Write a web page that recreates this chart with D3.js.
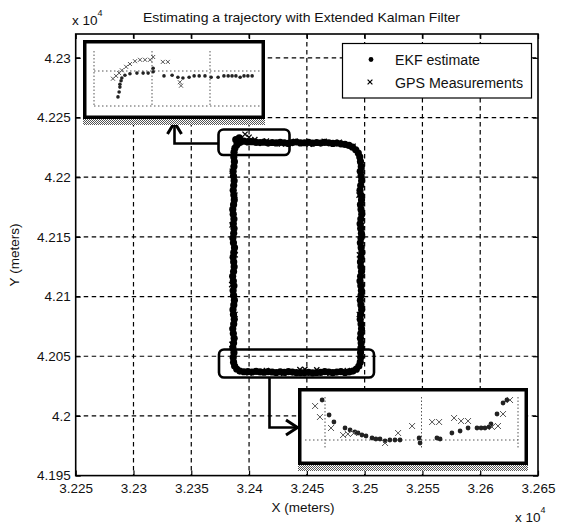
<!DOCTYPE html>
<html>
<head>
<meta charset="utf-8">
<script src="https://cdn.jsdelivr.net/npm/d3@7"></script>
<style>
body { margin: 0; background: #fff; }
#chart { width: 561px; height: 524px; }
text { font-family: "Liberation Sans", Arial, sans-serif; fill: #111; }
</style>
</head>
<body>
<div id="chart"></div>
<script>
// tick values (meters, labelled in units of 10^4)
const xTicks = [32250, 32300, 32350, 32400, 32450, 32500, 32550, 32600, 32650];
const yTicks = [41950, 42000, 42050, 42100, 42150, 42200, 42250, 42300];

// EKF estimate, read off the picture side by side [x, y] in meters
const ekfTop = [
    [32388.5, 42231.5], [32391.5, 42233.0], [32387.0, 42221.0], [32387.8, 42224.5], [32389.5, 42227.3], [32392.0, 42229.0],
    [32395.5, 42230.2], [32399.0, 42229.6], [32402.5, 42229.8], [32406.0, 42229.2], [32409.5, 42229.0], [32413.0, 42229.4],
    [32416.5, 42228.6], [32420.0, 42229.1], [32423.5, 42228.7], [32427.0, 42229.3], [32430.5, 42228.9], [32434.0, 42228.3],
    [32437.5, 42229.0], [32441.0, 42229.5], [32444.5, 42228.7], [32448.0, 42228.9], [32451.5, 42229.3], [32455.0, 42228.5],
    [32458.5, 42229.1], [32462.0, 42228.6], [32465.5, 42229.2], [32469.0, 42228.8], [32472.5, 42228.3], [32476.0, 42228.6],
    [32479.5, 42228.0], [32483.0, 42227.5], [32486.5, 42226.6],
    [32489.5, 42225.2], [32492.3, 42223.0], [32494.5, 42220.2], [32495.8, 42217.0]
];
const ekfRight = [
    [32496.4, 42213], [32497.1, 42209], [32496.2, 42205], [32496.9, 42201], [32497.4, 42197], [32496.6, 42193],
    [32496.0, 42189], [32496.8, 42185], [32497.3, 42181], [32496.4, 42177], [32496.9, 42173], [32497.5, 42169],
    [32496.7, 42165], [32496.1, 42161], [32496.6, 42157], [32497.2, 42153], [32496.8, 42149], [32496.3, 42145],
    [32497.0, 42141], [32497.6, 42137], [32496.9, 42133], [32496.4, 42129], [32496.8, 42125], [32497.3, 42121],
    [32496.5, 42117], [32496.0, 42113], [32496.7, 42109], [32497.2, 42105], [32496.9, 42101], [32496.3, 42097],
    [32496.8, 42093], [32497.4, 42089], [32496.6, 42085], [32496.2, 42081], [32496.9, 42077], [32497.3, 42073],
    [32496.7, 42069], [32496.4, 42065], [32497.0, 42061], [32496.8, 42057], [32496.5, 42053], [32496.6, 42049],
    [32496.2, 42045.0], [32495.0, 42041.8], [32492.8, 42039.2], [32489.8, 42037.6]
];
const ekfBottom = [
    [32486.5, 42036.9], [32483.0, 42036.4], [32479.5, 42037.1], [32476.0, 42036.7], [32472.5, 42036.2], [32469.0, 42036.8],
    [32465.5, 42037.2], [32462.0, 42036.5], [32458.5, 42036.4], [32455.0, 42036.1], [32451.5, 42036.5], [32448.0, 42036.3],
    [32444.5, 42036.2], [32441.0, 42036.2], [32437.5, 42036.7], [32434.0, 42037.1], [32430.5, 42036.5], [32427.0, 42036.9],
    [32423.5, 42036.4], [32420.0, 42036.8], [32416.5, 42037.2], [32413.0, 42036.6], [32409.5, 42036.9], [32406.0, 42037.3],
    [32402.5, 42036.8], [32399.0, 42037.2], [32395.5, 42037.0],
    [32392.0, 42037.6], [32389.3, 42039.3], [32387.5, 42041.8], [32386.6, 42045.0]
];
const ekfLeft = [
    [32386.3, 42049], [32386.9, 42053], [32386.0, 42057], [32386.6, 42061], [32387.1, 42065], [32386.4, 42069],
    [32385.9, 42073], [32386.7, 42077], [32387.2, 42081], [32386.5, 42085], [32386.1, 42089], [32386.8, 42093],
    [32387.3, 42097], [32386.6, 42101], [32386.2, 42105], [32386.9, 42109], [32386.4, 42113], [32385.8, 42117],
    [32386.6, 42121], [32387.1, 42125], [32386.7, 42129], [32386.2, 42133], [32386.8, 42137], [32387.4, 42141],
    [32386.5, 42145], [32386.0, 42149], [32386.7, 42153], [32387.0, 42157], [32386.4, 42161], [32386.9, 42165],
    [32386.3, 42169], [32385.9, 42173], [32386.6, 42177], [32387.2, 42181], [32386.8, 42185], [32386.3, 42189],
    [32386.7, 42193], [32387.1, 42197], [32386.5, 42201], [32386.2, 42205], [32386.9, 42209], [32387.3, 42213],
    [32386.8, 42217]
];

// GPS measurements [x, y] in meters
const gpsPoints = [
    [32396.5, 42236.0], [32400.0, 42233.5], [32392.5, 42232.0], [32405.0, 42231.5], [32415.0, 42230.2], [32428.0, 42227.8],
    [32440.0, 42230.0], [32452.0, 42227.6], [32465.0, 42230.1], [32478.0, 42229.3], [32490.0, 42226.0],
    [32497.8, 42205], [32495.2, 42185], [32498.0, 42160], [32495.5, 42135], [32497.6, 42110], [32495.4, 42085], [32497.9, 42060],
    [32485.0, 42038.0], [32470.0, 42035.8], [32458.6, 42038.6], [32448.3, 42039.0], [32444.0, 42038.8], [32430.0, 42035.6],
    [32415.0, 42038.1], [32400.0, 42036.0],
    [32385.2, 42060], [32387.8, 42085], [32385.0, 42110], [32388.0, 42135], [32385.3, 42160], [32387.7, 42185],
    [32385.5, 42205], [32387.0, 42222]
];

// zoomed view of the start (top-left corner)
const inset1XTicks = [32390, 32405, 32420];
const inset1YTicks = [42225, 42230];
const inset1Ekf = [
    [32396.2, 42226.3], [32396.5, 42227.0], [32396.7, 42227.7], [32396.7, 42228.1], [32397.0, 42228.6], [32397.2, 42229.0],
    [32398.0, 42229.4], [32399.3, 42229.6], [32401.1, 42229.7], [32402.7, 42229.7], [32404.0, 42229.7], [32405.3, 42230.4],
    [32405.3, 42229.9], [32408.1, 42229.3], [32410.2, 42229.4], [32411.7, 42229.1], [32413.0, 42229.0], [32414.6, 42229.1],
    [32415.9, 42229.3], [32417.2, 42229.3], [32418.7, 42229.3], [32420.3, 42229.1], [32422.1, 42229.1], [32423.6, 42229.3],
    [32424.7, 42229.3], [32425.7, 42229.3], [32426.7, 42229.3], [32427.8, 42229.1], [32428.8, 42229.3], [32429.8, 42229.3],
    [32430.9, 42229.3]
];
const inset1Gps = [
    [32394.9, 42228.9], [32395.7, 42229.3], [32396.5, 42229.7], [32397.2, 42230.1], [32398.3, 42230.6], [32399.3, 42231.0],
    [32400.6, 42231.4], [32401.9, 42231.6], [32403.2, 42231.6], [32404.5, 42231.6], [32405.3, 42232.0], [32407.8, 42231.3],
    [32409.1, 42231.3], [32412.2, 42228.4], [32412.5, 42227.9]
];

// zoomed view of the bottom edge
const inset2XTicks = [32400, 32440, 32480];
const inset2YTicks = [42037];
const inset2Ekf = [
    [32398.8, 42041.0], [32401.7, 42039.5], [32403.7, 42038.8], [32408.3, 42038.2], [32410.4, 42038.0], [32412.4, 42037.8],
    [32413.7, 42037.7], [32415.3, 42037.5], [32417.0, 42037.4], [32419.5, 42037.2], [32421.1, 42037.1], [32422.8, 42037.1],
    [32424.9, 42036.9], [32426.9, 42037.0], [32429.0, 42037.0], [32431.1, 42037.0], [32439.0, 42037.2], [32439.4, 42036.7],
    [32446.4, 42037.2], [32447.7, 42037.1], [32452.6, 42037.7], [32456.0, 42037.9], [32459.3, 42038.2], [32463.0, 42038.2],
    [32464.7, 42038.2], [32466.3, 42038.2], [32468.0, 42038.3], [32468.8, 42038.6], [32471.3, 42039.6], [32473.8, 42040.7],
    [32475.4, 42041.0]
];
const inset2Gps = [
    [32395.9, 42040.4], [32397.9, 42039.3], [32402.5, 42038.2], [32407.5, 42037.5], [32409.5, 42037.6], [32412.0, 42037.7],
    [32424.9, 42036.7], [32430.3, 42037.7], [32436.1, 42038.4], [32444.4, 42038.8], [32447.3, 42038.8], [32453.5, 42039.2],
    [32456.4, 42038.9], [32459.3, 42038.9], [32469.2, 42038.3], [32471.7, 42038.4], [32473.8, 42039.6], [32476.7, 42041.0]
];

const width = 561;
const height = 524;
const margin = { top: 34, left: 75.7, right: 23, bottom: 48.4 };

const svg = d3.select("#chart")
    .append("svg")
    .attr("width", width)
    .attr("height", height);

// stipple used for the drop shadows under the pasted zoom boxes
const pat = svg.append("defs").append("pattern")
    .attr("id", "stipple").attr("width", 2).attr("height", 2)
    .attr("patternUnits", "userSpaceOnUse");
pat.append("rect").attr("width", 2).attr("height", 2).attr("fill", "#fff");
pat.append("rect").attr("width", 1).attr("height", 1).attr("fill", "#555");
pat.append("rect").attr("x", 1).attr("y", 1).attr("width", 1).attr("height", 1).attr("fill", "#555");

const xScale = d3.scaleLinear()
    .domain([32250, 32650])
    .range([margin.left, width - margin.right]);

const yScale = d3.scaleLinear()
    .domain([41950, 42320])
    .range([height - margin.bottom, margin.top]);

const fmt = d => String(+(d / 1e4).toFixed(3));

// dashed grid
svg.append("g").selectAll("line")
    .data(xTicks.slice(1, -1))
    .enter().append("line")
    .attr("x1", d => xScale(d)).attr("x2", d => xScale(d))
    .attr("y1", margin.top).attr("y2", height - margin.bottom)
    .attr("stroke", "#000").attr("stroke-width", 1.2)
    .attr("stroke-dasharray", "4.5,3.5");

svg.append("g").selectAll("line")
    .data(yTicks.slice(1))
    .enter().append("line")
    .attr("x1", margin.left).attr("x2", width - margin.right)
    .attr("y1", d => yScale(d)).attr("y2", d => yScale(d))
    .attr("stroke", "#000").attr("stroke-width", 1.2)
    .attr("stroke-dasharray", "4.5,3.5");

// axes with inside ticks
let xAxis = svg.append("g")
    .attr("transform", `translate(0,${height - margin.bottom})`)
    .call(d3.axisBottom(xScale).tickValues(xTicks).tickFormat(fmt)
        .tickSizeInner(-5).tickSizeOuter(0).tickPadding(8));

let yAxis = svg.append("g")
    .attr("transform", `translate(${margin.left},0)`)
    .call(d3.axisLeft(yScale).tickValues(yTicks).tickFormat(fmt)
        .tickSizeInner(-5).tickSizeOuter(0).tickPadding(5));

svg.append("g")
    .attr("transform", `translate(0,${margin.top})`)
    .call(d3.axisTop(xScale).tickValues(xTicks).tickFormat("").tickSizeInner(-5).tickSizeOuter(0));

svg.append("g")
    .attr("transform", `translate(${width - margin.right},0)`)
    .call(d3.axisRight(yScale).tickValues(yTicks).tickFormat("").tickSizeInner(-5).tickSizeOuter(0));

svg.selectAll(".domain").remove();
svg.selectAll(".tick line").attr("stroke", "#000").attr("stroke-width", 1.2);
svg.selectAll(".tick text").attr("font-size", 13.5).attr("fill", "#111")
    .attr("font-family", "'Liberation Sans', Arial, sans-serif");

svg.append("rect")
    .attr("x", margin.left).attr("y", margin.top)
    .attr("width", width - margin.left - margin.right)
    .attr("height", height - margin.top - margin.bottom)
    .attr("fill", "none").attr("stroke", "#000").attr("stroke-width", 1.6);

// trajectory
const crossPath = s => `M${-s},${-s}L${s},${s}M${-s},${s}L${s},${-s}`;
const ekfAll = ekfTop.concat(ekfRight, ekfBottom, ekfLeft);

svg.append("g").selectAll("circle")
    .data(ekfAll)
    .enter().append("circle")
    .attr("cx", d => xScale(d[0]))
    .attr("cy", d => yScale(d[1]))
    .attr("r", 3.6)
    .attr("fill", "#000");

svg.append("g").selectAll("path")
    .data(gpsPoints)
    .enter().append("path")
    .attr("transform", d => `translate(${xScale(d[0])},${yScale(d[1])})`)
    .attr("d", crossPath(2.6))
    .attr("stroke", "#000").attr("stroke-width", 1.3);

// selection boxes and arrows
svg.append("rect").attr("x", 218.5).attr("y", 129.5).attr("width", 71).attr("height", 25.5).attr("rx", 5)
    .attr("fill", "none").attr("stroke", "#000").attr("stroke-width", 2.6);
svg.append("rect").attr("x", 219).attr("y", 349.5).attr("width", 155).attr("height", 28).attr("rx", 5)
    .attr("fill", "none").attr("stroke", "#000").attr("stroke-width", 2.6);

svg.append("path").attr("d", "M218,143.5H174.5V124")
    .attr("fill", "none").attr("stroke", "#000").attr("stroke-width", 2.6);
svg.append("path").attr("d", "M167.5,134L174.5,122.5L181.5,134")
    .attr("fill", "none").attr("stroke", "#000").attr("stroke-width", 3);
svg.append("path").attr("d", "M269.5,378V427.5H296")
    .attr("fill", "none").attr("stroke", "#000").attr("stroke-width", 2.6);
svg.append("path").attr("d", "M286,420L297.5,427.5L286,435")
    .attr("fill", "none").attr("stroke", "#000").attr("stroke-width", 3);

// zoom boxes
function drawInset(box, xs, ys, xt, yt, vSpan, hSpan, ekf, gps, dotR, crossS, id) {
    svg.append("rect").attr("x", box.x).attr("y", box.y + box.h).attr("width", box.w).attr("height", 6)
        .attr("fill", "url(#stipple)");
    svg.append("rect").attr("x", box.x).attr("y", box.y).attr("width", box.w).attr("height", box.h)
        .attr("fill", "#fff");
    svg.append("clipPath").attr("id", id).append("rect")
        .attr("x", box.x).attr("y", box.y).attr("width", box.w).attr("height", box.h);
    const g = svg.append("g").attr("clip-path", `url(#${id})`);

    g.selectAll(".v").data(xt).enter().append("line")
        .attr("x1", d => xs(d)).attr("x2", d => xs(d))
        .attr("y1", vSpan[0]).attr("y2", vSpan[1])
        .attr("stroke", "#555").attr("stroke-width", 1).attr("stroke-dasharray", "1.5,2");
    g.selectAll(".h").data(yt).enter().append("line")
        .attr("x1", hSpan[0]).attr("x2", hSpan[1])
        .attr("y1", d => ys(d)).attr("y2", d => ys(d))
        .attr("stroke", "#555").attr("stroke-width", 1).attr("stroke-dasharray", "1.5,2.5");

    g.selectAll("circle").data(ekf).enter().append("circle")
        .attr("cx", d => xs(d[0])).attr("cy", d => ys(d[1]))
        .attr("r", dotR).attr("fill", "#222");
    g.selectAll(".gps").data(gps).enter().append("path")
        .attr("transform", d => `translate(${xs(d[0])},${ys(d[1])})`)
        .attr("d", crossPath(crossS))
        .attr("stroke", "#555").attr("stroke-width", 1);

    svg.append("rect").attr("x", box.x + 1.75).attr("y", box.y + 1.75)
        .attr("width", box.w - 3.5).attr("height", box.h - 3.5)
        .attr("fill", "none").attr("stroke", "#000").attr("stroke-width", 3.5);
}

const ix1 = d3.scaleLinear().domain([32390, 32420]).range([94, 210]);
const iy1 = d3.scaleLinear().domain([42225, 42230]).range([106, 71]);
drawInset({ x: 83, y: 40, w: 182, h: 79 }, ix1, iy1, inset1XTicks, inset1YTicks,
    [51, 106], [94, 262], inset1Ekf, inset1Gps, 1.8, 2, "clip1");

const ix2 = d3.scaleLinear().domain([32400, 32480]).range([325, 518]);
const iy2 = d3.scaleLinear().domain([42036, 42040]).range([450, 410]);
drawInset({ x: 298, y: 388, w: 230, h: 77 }, ix2, iy2, inset2XTicks, inset2YTicks,
    [397, 448], [305, 518], inset2Ekf, inset2Gps, 2.4, 3, "clip2");

// legend
const legend = svg.append("g");
legend.append("rect").attr("x", 342.5).attr("y", 43.5).attr("width", 189).attr("height", 54.5)
    .attr("fill", "#fff").attr("stroke", "#000").attr("stroke-width", 1.2);
legend.append("circle").attr("cx", 371).attr("cy", 59.5).attr("r", 2.4).attr("fill", "#000");
legend.append("path").attr("transform", "translate(370,82)").attr("d", crossPath(2.4))
    .attr("stroke", "#000").attr("stroke-width", 1.2);
legend.append("text").attr("x", 395).attr("y", 64.5).attr("font-size", 14)
    .attr("textLength", 85).attr("lengthAdjust", "spacingAndGlyphs").text("EKF estimate");
legend.append("text").attr("x", 395).attr("y", 87.5).attr("font-size", 14)
    .attr("textLength", 128).attr("lengthAdjust", "spacingAndGlyphs").text("GPS Measurements");

// title and labels
svg.append("text").attr("x", 143).attr("y", 21.5).attr("font-size", 13.5)
    .attr("textLength", 317).attr("lengthAdjust", "spacingAndGlyphs")
    .text("Estimating a trajectory with Extended Kalman Filter");

const xAxisLabel = svg.append("text")
    .attr("x", 303).attr("y", 512).attr("text-anchor", "middle").attr("font-size", 13.5)
    .text("X (meters)");

const yAxisLabel = svg.append("text")
    .attr("transform", "rotate(-90)")
    .attr("x", -255).attr("y", 19).attr("text-anchor", "middle").attr("font-size", 13.5)
    .text("Y (meters)");

// exponent markers
const expTop = svg.append("text").attr("x", 72).attr("y", 25).attr("font-size", 13.5);
expTop.append("tspan").text("x 10");
expTop.append("tspan").attr("dy", -9).attr("font-size", 9).text("4");

const expBottom = svg.append("text").attr("x", 515).attr("y", 522).attr("font-size", 13.5);
expBottom.append("tspan").text("x 10");
expBottom.append("tspan").attr("dy", -9).attr("font-size", 9).text("4");
</script>
</body>
</html>
